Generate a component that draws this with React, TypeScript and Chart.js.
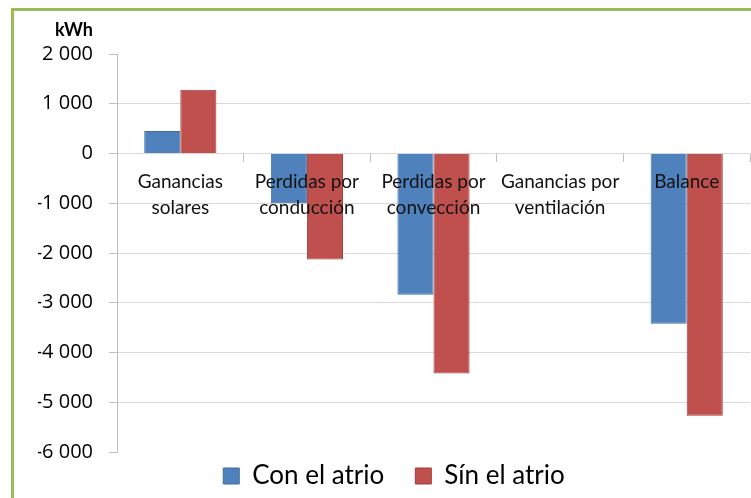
import React, { useEffect, useRef } from "react";
import { Chart, registerables } from "chart.js";

Chart.register(...registerables);

// Energy balance per heat-flow component (kWh)
const categories: (string | string[])[] = [
  ["Ganancias", "solares"],
  ["Perdidas por", "conducción"],
  ["Perdidas por", "convección"],
  ["Ganancias por", "ventilación"],
  "Balance",
];
const conAtrio = [450, -1000, -2840, 0, -3420];
const sinAtrio = [1280, -2130, -4420, 0, -5270];
const seriesNames = ["Con el atrio", "Sín el atrio"];
const unitLabel = "kWh";
const yMin = -6000;
const yMax = 2000;
const yStep = 1000;

const FONT = "Lato, 'Open Sans', sans-serif";
const NUM_FONT = "'Open Sans', Lato, sans-serif";
const GRID = "#d9d9d9";
const AXIS = "#bfbfbf";

const fmt = (v: number) => {
  const s = Math.abs(v).toString().replace(/\B(?=(\d{3})+(?!\d))/g, " ");
  return (v < 0 ? "-" : "") + s;
};

// draws the unit caption above the value axis
const unitCaption = {
  id: "unitCaption",
  afterDraw(chart: any) {
    const { ctx, chartArea } = chart;
    ctx.save();
    ctx.font = `bold 18px ${FONT}`;
    ctx.fillStyle = "#000";
    ctx.textAlign = "right";
    ctx.textBaseline = "middle";
    ctx.fillText(unitLabel, chartArea.left - 24, chartArea.top - 24);
    ctx.restore();
  },
};

// raises the legend row closer to the plot
const legendLift = {
  id: "legendLift",
  afterLayout(chart: any) {
    const l = chart.legend;
    if (l) {
      l.top -= 20;
    }
  },
};

export default function App() {
  const ref = useRef<HTMLCanvasElement | null>(null);

  useEffect(() => {
    if (!ref.current) return;
    const chart = new Chart(ref.current, {
      type: "bar",
      data: {
        labels: categories,
        datasets: [
          {
            label: seriesNames[0],
            data: conAtrio,
            backgroundColor: "#4f81bd",
            borderColor: "#3d6ca3",
            borderWidth: 1,
          },
          {
            label: seriesNames[1],
            data: sinAtrio,
            backgroundColor: "#c0504d",
            borderColor: "#9c3d3a",
            borderWidth: 1,
          },
        ],
      },
      plugins: [unitCaption, legendLift],
      options: {
        responsive: false,
        animation: false,
        layout: { padding: { left: 38, right: 1, top: 54, bottom: 0 } },
        datasets: {
          bar: { categoryPercentage: 0.57, barPercentage: 1 },
        },
        scales: {
          x: {
            position: { y: 0 } as any,
            offset: true,
            border: { display: false },
            grid: {
              offset: true,
              drawOnChartArea: false,
              drawTicks: true,
              tickLength: 8,
              tickColor: AXIS,
            },
            ticks: {
              z: 1,
              color: "#111",
              padding: 8,
              maxRotation: 0,
              autoSkip: false,
              font: { family: FONT, size: 19, lineHeight: 1.35 },
            },
          },
          y: {
            min: yMin,
            max: yMax,
            afterFit: (s: any) => {
              s.width = 79;
            },
            border: { display: true, color: AXIS },
            grid: {
              color: (c: any) =>
                c.tick && (c.tick.value === yMax || c.tick.value === yMin) ? "rgba(0,0,0,0)" : GRID,
              tickColor: AXIS,
              tickLength: 8,
            },
            ticks: {
              stepSize: yStep,
              padding: 16,
              color: "#000",
              font: { family: NUM_FONT, size: 20 },
              callback: (v: any) => fmt(Number(v)),
            },
          },
        },
        plugins: {
          legend: {
            position: "bottom",
            maxHeight: 46,
            labels: {
              boxWidth: 16,
              boxHeight: 16,
              padding: 31,
              color: "#000",
              font: { family: FONT, size: 26 },
            },
          },
          tooltip: { enabled: false },
        },
      },
    });
    return () => chart.destroy();
  }, []);

  return (
    <div style={{ position: "absolute", left: 0, top: 0, width: 751, height: 498, background: "#fff", overflow: "hidden" }}>
      <div
        style={{
          position: "absolute",
          left: 11,
          top: 8,
          width: 800,
          height: 600,
          borderTop: "3px solid #9bbb59",
          borderLeft: "3px solid #9bbb59",
        }}
      />
      <canvas ref={ref} width={751} height={498} style={{ position: "absolute", left: 0, top: 0 }} />
    </div>
  );
}
